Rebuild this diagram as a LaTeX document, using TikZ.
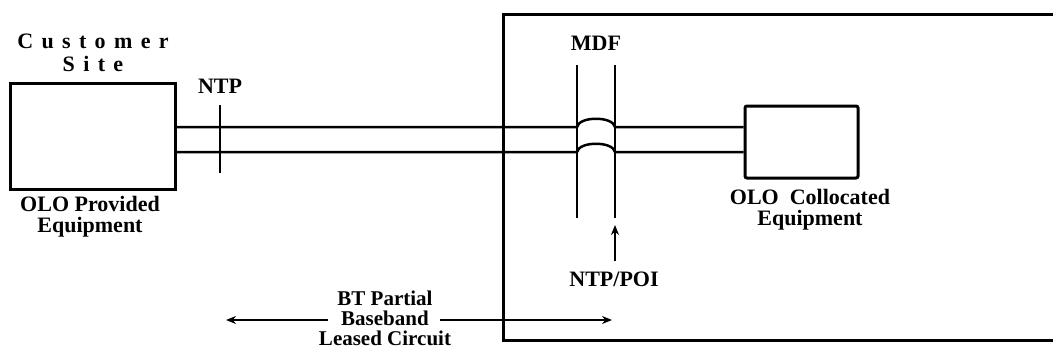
\documentclass[tikz,border=0pt]{standalone}
\usepackage{fontspec}
\setmainfont{Liberation Serif}
\usetikzlibrary{arrows.meta,positioning}

\begin{document}
\begin{tikzpicture}[x=1pt,y=-1pt,
  lbl/.style={font=\fontsize{22}{21}\selectfont\bfseries,align=center,inner sep=0pt},
  equip/.style={draw,line width=3pt,inner sep=0pt},
  wire/.style={line width=2.5pt},
  span/.style={line width=2pt,-{Stealth[length=10pt,width=8pt]}}]
\useasboundingbox (0,0) rectangle (1053,351);
% Exchange building (runs off the right edge)
\draw[line width=3pt] (1070,14) -- (503,14) -- (503,340) -- (1070,340);
% Equipment
\node[equip,minimum width=165pt,minimum height=106pt] (cust) at (92.5,136) {};
\node[equip,minimum width=113pt,minimum height=72pt,rounded corners=2pt] (coloc) at (801.5,142) {};
\node[lbl,font=\fontsize{22}{23}\selectfont\bfseries\addfontfeature{LetterSpace=38}] (site) at (93,53) {Customer\\Site};
\node[lbl] (custlbl) at (90,217) {OLO Provided\\Equipment};
\node[lbl] (coloclbl) at (810,210) {OLO\ \ Collocated\\Equipment};
% NTP at customer side
\coordinate (ntpt) at (220,105);
\coordinate (ntpb) at (220,173);
\node[lbl] (ntp) at (220,86) {NTP};
\draw[wire] (ntpt) -- (ntpb);
% MDF
\coordinate (mdfat) at (577,65);
\coordinate (mdfab) at (577,218);
\coordinate (mdfbt) at (615,65);
\coordinate (mdfbb) at (615,218);
\node[lbl] (mdf) at (596,43) {MDF};
\draw[wire] (mdfat) -- (mdfab);
\draw[wire] (mdfbt) -- (mdfbb);
% Wire pair
\draw[wire] (cust.east |- 0,127) -- (mdfat |- 0,127)
  .. controls (579,116) and (613,116) .. (mdfbt |- 0,127) -- (coloc.west |- 0,127);
\draw[wire] (cust.east |- 0,152) -- (mdfat |- 0,152)
  .. controls (579,141) and (613,141) .. (mdfbt |- 0,152) -- (coloc.west |- 0,152);
% Point of interconnect
\node[lbl] (poi) at (614,279) {NTP/POI};
\draw[span] ([yshift=10pt]poi.north -| mdfbb) -- (mdfbb |- 0,225);
% Leased circuit span
\node[lbl,font=\fontsize{21}{20}\selectfont\bfseries] (bt) at (385,318) {BT Partial\\Baseband\\Leased Circuit};
\coordinate (btl) at (226,320);
\coordinate (btr) at (612,320);
\draw[span] (bt.center) ++(-57,2) -- (btl);
\draw[span] (bt.center) ++(55,2) -- (btr);
\end{tikzpicture}
\end{document}
